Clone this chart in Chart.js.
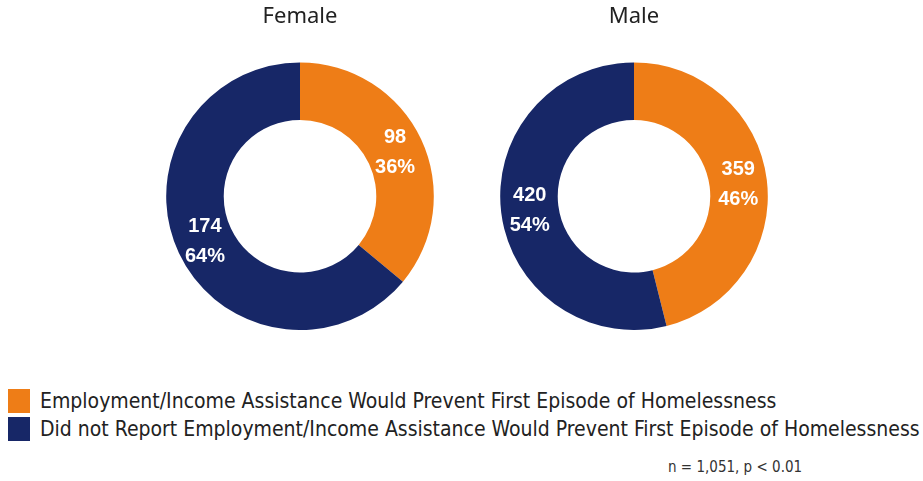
<!DOCTYPE html>
<html>
<head>
<meta charset="utf-8">
<script src="https://cdn.jsdelivr.net/npm/chart.js@4.4.1/dist/chart.umd.min.js"></script>
<style>
  body { margin: 0; background: #fff; width: 923px; height: 481px; position: relative; overflow: hidden; }
  .donut { position: absolute; top: 0; width: 268px; height: 330px; }
  #legend { position: absolute; left: 8px; top: 387px; font-family: "DejaVu Sans Condensed", sans-serif; font-size: 21px; color: #222; }
  .item { display: flex; align-items: center; height: 28px; white-space: nowrap; }
  .box { width: 22px; height: 24px; margin-right: 10px; flex: none; }
  #note { position: absolute; left: 668px; top: 458px; font-family: "DejaVu Sans Condensed", sans-serif; font-size: 15px; color: #333; }
</style>
</head>
<body>
<div class="donut" style="left:166px"><canvas id="femaleChart"></canvas></div>
<div class="donut" style="left:500px"><canvas id="maleChart"></canvas></div>
<div id="legend"></div>
<div id="note">n = 1,051, p &lt; 0.01</div>
<script>
const categories = [
    "Employment/Income Assistance Would Prevent First Episode of Homelessness",
    "Did not Report Employment/Income Assistance Would Prevent First Episode of Homelessness"
];
const femaleCounts = [98, 174];
const maleCounts = [359, 420];
const colors = ['#ee7d17', '#172767'];

// count on the first line, share of the ring on the second
const sliceLabels = {
    id: 'sliceLabels',
    afterDatasetsDraw(chart) {
        const ctx = chart.ctx;
        const data = chart.data.datasets[0].data;
        const total = data.reduce((a, b) => a + b, 0);
        chart.getDatasetMeta(0).data.forEach((arc, i) => {
            const pos = arc.tooltipPosition();
            const pct = Math.round(data[i] / total * 100) + '%';
            ctx.save();
            ctx.fillStyle = '#fff';
            ctx.font = 'bold 20px "Liberation Sans", Arial, sans-serif';
            ctx.textAlign = 'center';
            ctx.textBaseline = 'middle';
            ctx.fillText(data[i], pos.x, pos.y - 14);
            ctx.fillText(pct, pos.x, pos.y + 16);
            ctx.restore();
        });
    }
};

function createDonut(id, title, values) {
    const ctx = document.getElementById(id);
    return new Chart(ctx.getContext('2d'), {
        type: 'doughnut',
        data: {
            labels: categories,
            datasets: [{
                data: values,
                backgroundColor: colors,
                borderWidth: 0
            }]
        },
        options: {
            responsive: true,
            maintainAspectRatio: false,
            animation: false,
            cutout: '57%',
            plugins: {
                legend: { display: false },
                tooltip: { enabled: false },
                title: {
                    display: true,
                    text: title,
                    color: '#222',
                    font: { family: '"Noto Sans", sans-serif', size: 22, weight: 'normal' },
                    padding: { top: 4, bottom: 32 }
                }
            }
        },
        plugins: [sliceLabels]
    });
}

createDonut('femaleChart', 'Female', femaleCounts);
createDonut('maleChart', 'Male', maleCounts);

const legend = document.getElementById('legend');
categories.forEach((name, i) => {
    const row = document.createElement('div');
    row.className = 'item';
    row.innerHTML = `<span class="box" style="background:${colors[i]}"></span><span>${name}</span>`;
    legend.appendChild(row);
});
</script>
</body>
</html>
